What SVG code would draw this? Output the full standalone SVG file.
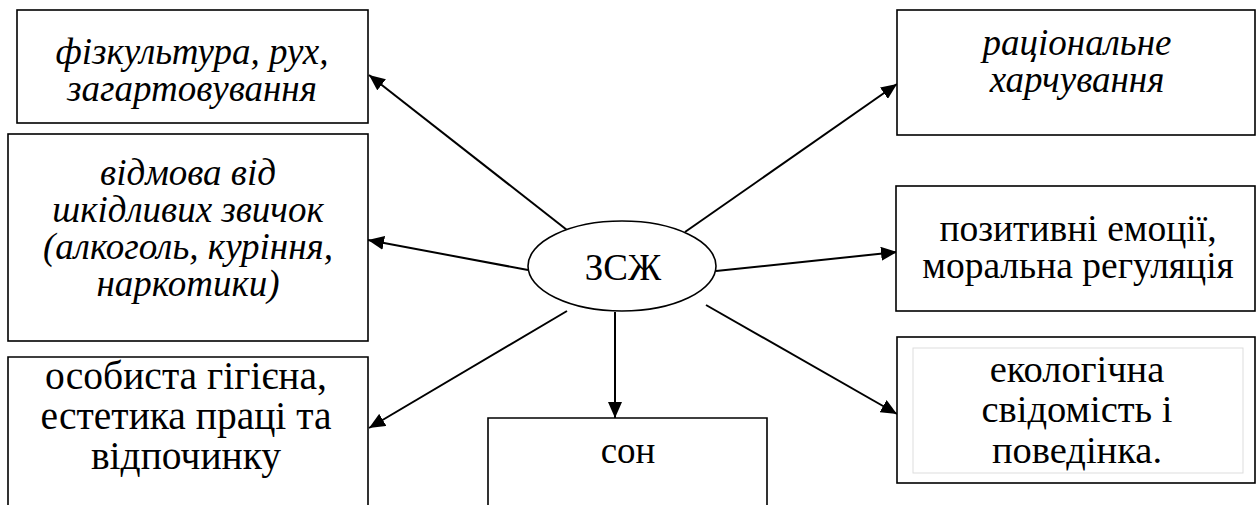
<svg xmlns="http://www.w3.org/2000/svg" width="1258" height="505" viewBox="0 0 1258 505">
<style>
.box{fill:#fff;stroke:#000;stroke-width:1.6}
.t{font-family:'Liberation Serif','Times New Roman',serif;font-size:37px;fill:#000;text-anchor:middle}
.i{font-style:italic}
.c{stroke:#000;stroke-width:2;fill:none;marker-end:url(#ah)}
</style>
<defs>
<marker id="ah" markerUnits="userSpaceOnUse" markerWidth="18" markerHeight="14" refX="16" refY="7" orient="auto">
<path d="M0,0 L16,7 L0,14 Z" fill="#000"/>
</marker>
</defs>
<rect width="1258" height="505" fill="#fff"/>
<g id="connectors">
<line class="c" x1="567" y1="230" x2="369" y2="75"/>
<line class="c" x1="528" y1="270" x2="368" y2="240"/>
<line class="c" x1="567" y1="311" x2="369" y2="428"/>
<line class="c" x1="685" y1="232" x2="897" y2="84"/>
<line class="c" x1="716" y1="271" x2="897" y2="252"/>
<line class="c" x1="706" y1="305" x2="897" y2="414"/>
<line class="c" x1="615" y1="312" x2="615" y2="418"/>
</g>
<g id="center">
<ellipse cx="622" cy="266" rx="94" ry="45" fill="#fff" stroke="#000" stroke-width="1.6"/>
<text class="t" x="623" y="280">ЗСЖ</text>
</g>
<g id="n1">
<rect class="box" x="17" y="10" width="351" height="113"/>
<text class="t i" x="192" y="64">фізкультура, рух,</text>
<text class="t i" x="192" y="101">загартовування</text>
</g>
<g id="n2">
<rect class="box" x="8" y="134" width="360" height="207"/>
<text class="t i" x="188" y="185" font-size="38">відмова від</text>
<text class="t i" x="188" y="222" font-size="38">шкідливих звичок</text>
<text class="t i" x="188" y="259" font-size="38">(алкоголь, куріння,</text>
<text class="t i" x="188" y="296" font-size="38">наркотики)</text>
</g>
<g id="n3">
<path class="box" d="M8,506 V357 H368 V506"/>
<text class="t" x="186" y="389" style="font-size:39.5px">особиста гігієна,</text>
<text class="t" x="186" y="429" style="font-size:39.5px">естетика праці та</text>
<text class="t" x="186" y="469" style="font-size:39.5px">відпочинку</text>
</g>
<g id="n4">
<path class="box" d="M488,506 V418 H767 V506"/>
<text class="t" x="628" y="463">сон</text>
</g>
<g id="n5">
<rect class="box" x="897" y="10" width="358" height="125"/>
<text class="t i" x="1077" y="55">раціональне</text>
<text class="t i" x="1077" y="92">харчування</text>
</g>
<g id="n6">
<rect class="box" x="896" y="186" width="359" height="125"/>
<text class="t" x="1078" y="241" style="font-size:37.5px">позитивні емоції,</text>
<text class="t" x="1078" y="278" style="font-size:37.5px">моральна регуляція</text>
</g>
<g id="n7">
<rect class="box" x="897" y="337" width="358" height="146"/>
<rect x="913" y="348" width="330" height="125" fill="none" stroke="#ddd" stroke-width="1"/>
<text class="t" x="1077" y="382" style="font-size:38.5px">екологічна</text>
<text class="t" x="1077" y="422" style="font-size:38.5px">свідомість і</text>
<text class="t" x="1077" y="463" style="font-size:38.5px">поведінка.</text>
</g>
</svg>
